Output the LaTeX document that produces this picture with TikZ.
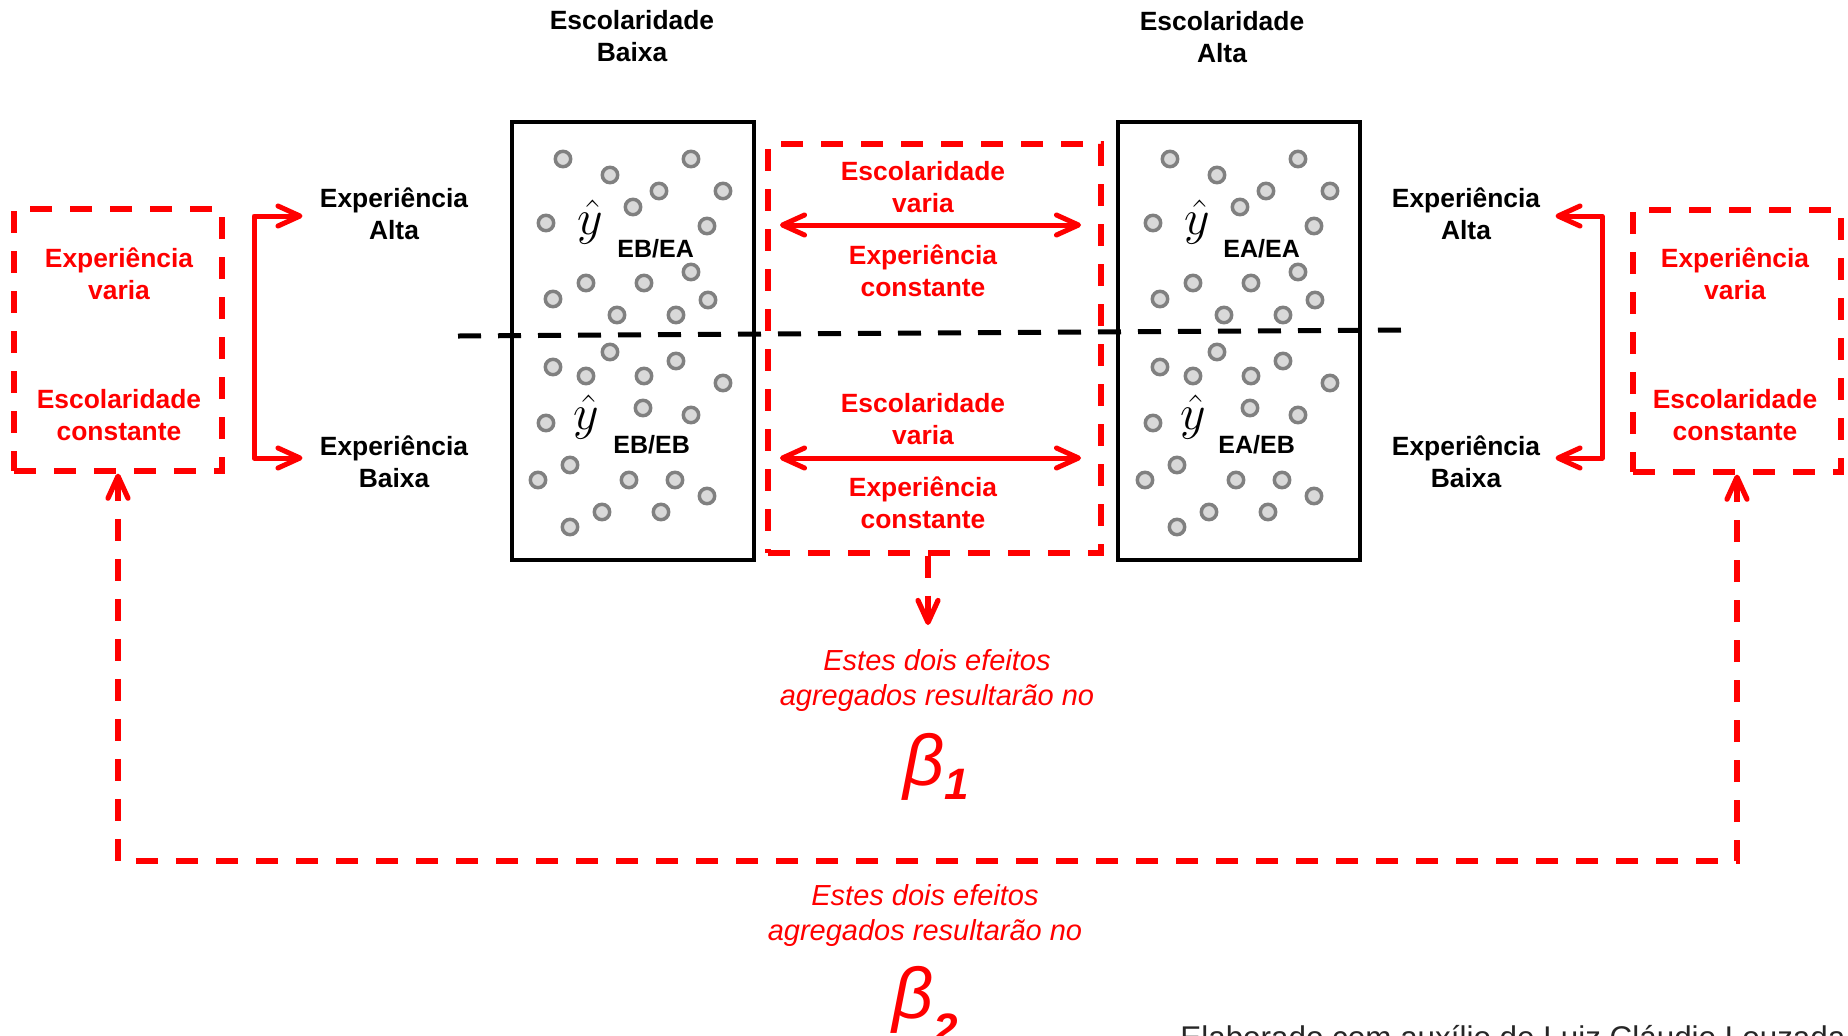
\documentclass[tikz,border=0pt]{standalone}
\usepackage{fontspec}
\setmainfont{Liberation Sans}
\usetikzlibrary{arrows.meta}
\definecolor{anel}{HTML}{808080}
\definecolor{miolo}{HTML}{D9D9D9}
\tikzset{
  rotulo/.style={font=\fontsize{13.2}{15.75}\selectfont\bfseries, align=center, inner sep=0pt},
  rotver/.style={rotulo, text=red},
  italver/.style={font=\fontsize{14.5}{17.5}\selectfont\itshape, text=red, align=center, inner sep=0pt},
  indice/.style={font=\fontsize{12.5}{15}\selectfont\bfseries, anchor=base west, inner sep=0pt},
  chapeu/.style={font=\fontsize{34}{34}\selectfont, anchor=base west, inner sep=0pt},
  grupo/.style={draw=black, line width=2.25pt, minimum width=121pt, minimum height=219pt, inner sep=0pt},
  tracejado/.style={draw=red, line width=2.6pt, dash pattern=on 11pt off 9pt},
  seta/.style={draw=red, line width=2.5pt, line join=round},
  ponto/.style={draw=anel, fill=miolo, line width=1.75pt},
}
\begin{document}
\begin{tikzpicture}[x=0.5pt,y=-0.5pt,>={Straight Barb[length=11pt,width=10pt,round]}]
\useasboundingbox (0,0) rectangle (1848,1035);
\clip (0,0) rectangle (1848,1035);
\def\R{3.85pt}
\def\pontos{
  \draw[ponto] ( 51, 37) circle (\R);
  \draw[ponto] ( 98, 53) circle (\R);
  \draw[ponto] (179, 37) circle (\R);
  \draw[ponto] (147, 69) circle (\R);
  \draw[ponto] (211, 69) circle (\R);
  \draw[ponto] (121, 85) circle (\R);
  \draw[ponto] ( 34,101) circle (\R);
  \draw[ponto] (195,104) circle (\R);
  \draw[ponto] (179,150) circle (\R);
  \draw[ponto] ( 74,161) circle (\R);
  \draw[ponto] (132,161) circle (\R);
  \draw[ponto] ( 41,177) circle (\R);
  \draw[ponto] (196,178) circle (\R);
  \draw[ponto] (105,193) circle (\R);
  \draw[ponto] (164,193) circle (\R);
  \draw[ponto] ( 98,230) circle (\R);
  \draw[ponto] ( 41,245) circle (\R);
  \draw[ponto] ( 74,254) circle (\R);
  \draw[ponto] (132,254) circle (\R);
  \draw[ponto] (164,239) circle (\R);
  \draw[ponto] (211,261) circle (\R);
  \draw[ponto] (131,286) circle (\R);
  \draw[ponto] ( 34,301) circle (\R);
  \draw[ponto] (179,293) circle (\R);
  \draw[ponto] ( 58,343) circle (\R);
  \draw[ponto] ( 26,358) circle (\R);
  \draw[ponto] (117,358) circle (\R);
  \draw[ponto] (163,358) circle (\R);
  \draw[ponto] (195,374) circle (\R);
  \draw[ponto] ( 90,390) circle (\R);
  \draw[ponto] (149,390) circle (\R);
  \draw[ponto] ( 58,405) circle (\R);
}

\node[rotulo] (escB) at (632,36) {Escolaridade\\Baixa};
\node[rotulo] (escA) at (1222,37) {Escolaridade\\Alta};

\node[grupo] (gB) at (633,341) {};
\node[grupo] (gA) at (1239,341) {};
\begin{scope}[shift={(512,122)}]
  \pontos
\end{scope}
\begin{scope}[shift={(1119,122)}]
  \pontos
\end{scope}

\node[chapeu] (yBA) at (577,234) {$\hat{y}$};
\node[indice] (iBA) at (617,257) {EB/EA};
\node[chapeu] (yBB) at (573,429) {$\hat{y}$};
\node[indice] (iBB) at (613,453) {EB/EB};
\node[chapeu] (yAA) at (1184,234) {$\hat{y}$};
\node[indice] (iAA) at (1223,257) {EA/EA};
\node[chapeu] (yAB) at (1180,429) {$\hat{y}$};
\node[indice] (iAB) at (1218,453) {EA/EB};

\coordinate (corteE) at (458,336);
\coordinate (corteD) at (1407,330);
\draw[line width=2.5pt, dash pattern=on 11.5pt off 8.5pt] (corteE) -- (corteD);

\node[tracejado, minimum width=166.5pt, minimum height=204.5pt] (cxM) at (934.5,348.5) {};
\node[rotver] (escV1) at (923,187) {Escolaridade\\varia};
\node[rotver] (expC1) at (923,271) {Experiência\\constante};
\node[rotver] (escV2) at (923,419) {Escolaridade\\varia};
\node[rotver] (expC2) at (923,503) {Experiência\\constante};
\coordinate (m1e) at (780,225);
\coordinate (m1d) at (1081,225);
\coordinate (m2e) at (780,458);
\coordinate (m2d) at (1081,458);
\draw[seta,<->] (m1e) -- (m1d);
\draw[seta,<->] (m2e) -- (m2d);

\node[tracejado, minimum width=104pt, minimum height=131pt] (cxE) at (118,340) {};
\node[rotver] (varE) at (119,274) {Experiência\\varia};
\node[rotver] (fixE) at (119,415) {Escolaridade\\constante};
\node[tracejado, minimum width=104pt, minimum height=131pt] (cxD) at (1737,341) {};
\node[rotver] (varD) at (1735,274) {Experiência\\varia};
\node[rotver] (fixD) at (1735,415) {Escolaridade\\constante};

\node[rotulo] (expAE) at (394,214) {Experiência\\Alta};
\node[rotulo] (expBE) at (394,462) {Experiência\\Baixa};
\node[rotulo] (expAD) at (1466,214) {Experiência\\Alta};
\node[rotulo] (expBD) at (1466,462) {Experiência\\Baixa};
\coordinate (chE) at (254,340);
\coordinate (chD) at (1602,340);
\draw[seta,<->] ([xshift=-8.5pt,yshift=-1pt]expAE.west) -| (chE) |- ([xshift=-8.5pt,yshift=2pt]expBE.west);
\draw[seta,<->] ([xshift=7.5pt,yshift=-1pt]expAD.east) -| (chD) |- ([xshift=7.5pt,yshift=2pt]expBD.east);

\coordinate (alvo1) at (928,625);
\draw[tracejado,->] (cxM.south -| alvo1) -- (alvo1);
\coordinate (fundo) at (118,861);
\draw[tracejado,<->] (cxE.south) -- (fundo) -| (cxD.south);

\node[italver] (txt1) at (937,680) {Estes dois efeitos\\agregados resultarão no};
\node[text=red, inner sep=0pt, anchor=base] (beta1) at (936,785) {\fontsize{36}{36}\selectfont\itshape β\raisebox{-7pt}{\fontsize{22}{22}\selectfont\bfseries 1}};
\node[italver] (txt2) at (925,915) {Estes dois efeitos\\agregados resultarão no};
\node[text=red, inner sep=0pt, anchor=base] (beta2) at (925,1018) {\fontsize{36}{36}\selectfont\itshape β\raisebox{-13pt}{\fontsize{22}{22}\selectfont\bfseries 2}};
\node[anchor=base west, inner sep=0pt, font=\fontsize{15.7}{18}\selectfont, text=black!85] (credito) at (1180,1048) {Elaborado com auxílio de Luiz Cláudio Louzada};
\end{tikzpicture}
\end{document}
